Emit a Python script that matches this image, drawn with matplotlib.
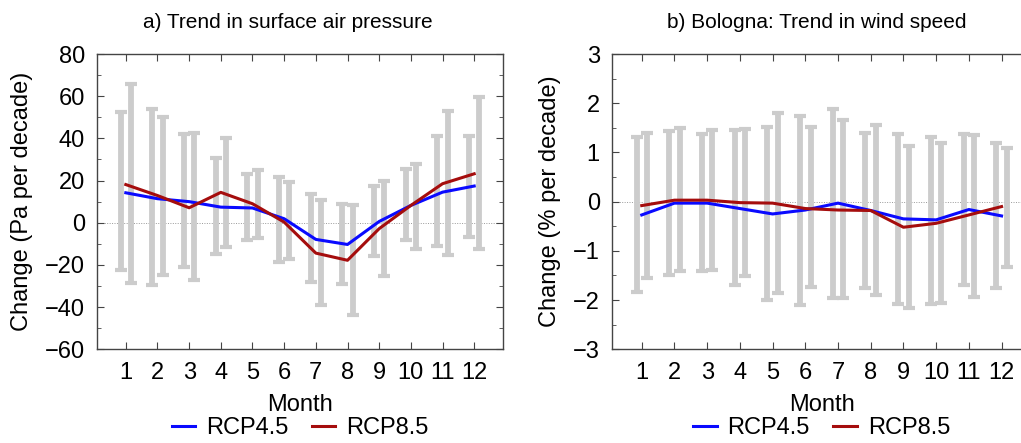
import numpy as np
import matplotlib
matplotlib.use("Agg")
import matplotlib.pyplot as plt
from matplotlib.ticker import MultipleLocator

plt.rcParams['font.family'] = ['Liberation Sans', 'DejaVu Sans']

months = np.arange(1, 13)

# a) surface air pressure (Pa per decade)
sap_rcp45 = [14.2, 11.4, 10.0, 7.4, 7.0, 1.9, -7.9, -10.3, 0.6, 8.2, 14.5, 17.4]
sap_rcp85 = [18.1, 12.9, 7.1, 14.4, 9.0, 0.3, -14.4, -17.8, -2.8, 8.2, 18.5, 23.2]
sap_lo45 = [-22.6, -29.7, -21.0, -15.0, -8.0, -18.6, -28.0, -28.9, -16.0, -8.4, -11.2, -6.8]
sap_hi45 = [52.4, 54.0, 42.0, 30.8, 23.2, 21.6, 13.7, 9.0, 17.4, 25.6, 41.3, 41.3]
sap_lo85 = [-28.4, -25.0, -27.3, -11.5, -7.0, -17.0, -39.0, -43.8, -25.4, -12.3, -15.5, -12.3]
sap_hi85 = [66.0, 50.3, 42.4, 40.2, 25.0, 19.2, 10.9, 8.2, 19.6, 28.0, 52.8, 59.5]

# b) Bologna wind speed (% per decade)
ws_rcp45 = [-0.27, -0.03, -0.03, -0.14, -0.25, -0.17, -0.03, -0.18, -0.35, -0.37, -0.16, -0.29]
ws_rcp85 = [-0.08, 0.03, 0.03, -0.02, -0.03, -0.14, -0.17, -0.18, -0.52, -0.44, -0.27, -0.10]
ws_lo45 = [-1.83, -1.49, -1.40, -1.69, -1.99, -2.10, -1.96, -1.76, -2.08, -2.07, -1.69, -1.76]
ws_hi45 = [1.32, 1.44, 1.37, 1.46, 1.51, 1.74, 1.88, 1.39, 1.38, 1.32, 1.37, 1.20]
ws_lo85 = [-1.56, -1.40, -1.39, -1.51, -1.86, -1.74, -1.95, -1.90, -2.17, -2.05, -1.93, -1.33]
ws_hi85 = [1.40, 1.49, 1.46, 1.47, 1.80, 1.51, 1.65, 1.56, 1.13, 1.19, 1.36, 1.10]

BLUE = '#0a0aff'
RED = '#a50d0d'
GREY = '#cccccc'
W, H = 1021, 443
FS = 17

fig = plt.figure(figsize=(W / 100, H / 100), dpi=100)


def px_axes(x0, x1, y0, y1):
    return fig.add_axes([x0 / W, 1 - y1 / H, (x1 - x0) / W, (y1 - y0) / H])


def range_bar(ax, x, lo, hi):
    lo, hi = np.array(lo), np.array(hi)
    mid = (lo + hi) / 2
    ax.errorbar(x, mid, yerr=(hi - lo) / 2, fmt='none', ecolor=GREY,
                elinewidth=4.2, capsize=4.5, capthick=3, zorder=1)


def panel(ax, r45, r85, lo45, hi45, lo85, hi85, ylim, major, minor,
          ylabel, title, title_x, ylab_x):
    range_bar(ax, months - 0.16, lo45, hi45)
    range_bar(ax, months + 0.16, lo85, hi85)
    ax.axhline(0, color='#999999', lw=0.7, ls=(0, (1, 1.5)), zorder=0)
    ax.plot(months, r45, color=BLUE, lw=2.2, label='RCP4.5', zorder=3)
    ax.plot(months, r85, color=RED, lw=2.2, label='RCP8.5', zorder=3)

    ax.set_xlim(0.1, 12.9)
    ax.set_ylim(*ylim)
    ax.set_xticks(months)
    ax.yaxis.set_major_locator(MultipleLocator(major))
    ax.yaxis.set_minor_locator(MultipleLocator(minor))
    ax.tick_params(axis='both', which='both', direction='in', top=True, right=True,
                   labelsize=FS, color='#444444')
    ax.tick_params(axis='both', which='major', length=5)
    ax.tick_params(axis='y', which='minor', length=3)
    ax.tick_params(axis='x', pad=9)
    ax.tick_params(axis='y', pad=9)
    for s in ax.spines.values():
        s.set_color('#444444')
        s.set_linewidth(1.0)

    ax.set_xlabel('Month', fontsize=FS)
    ax.xaxis.set_label_coords(0.5, -0.19)
    ax.xaxis.label.set_va('center')
    ax.set_ylabel(ylabel, fontsize=FS)
    ax.yaxis.set_label_coords(ylab_x, 0.5)
    ax.yaxis.label.set_va('center')
    ax.text(title_x, 1.108, title, transform=ax.transAxes, ha='center', va='center',
            fontsize=15)
    ax.legend(loc='center', bbox_to_anchor=(0.5, -0.267), ncol=2, frameon=False,
              fontsize=FS, handlelength=1.0, handletextpad=0.45, columnspacing=1.0,
              borderpad=0)


ax1 = px_axes(97.3, 502.7, 54, 349.3)
panel(ax1, sap_rcp45, sap_rcp85, sap_lo45, sap_hi45, sap_lo85, sap_hi85,
      (-60, 80), 20, 10, 'Change (Pa per decade)',
      'a) Trend in surface air pressure', 0.47, -0.186)

ax2 = px_axes(612.3, 1031, 54, 349.3)
panel(ax2, ws_rcp45, ws_rcp85, ws_lo45, ws_hi45, ws_lo85, ws_hi85,
      (-3, 3), 1, 0.5, 'Change (% per decade)',
      'b) Bologna: Trend in wind speed', 0.488, -0.149)

fig.savefig('out.png', dpi=100)
